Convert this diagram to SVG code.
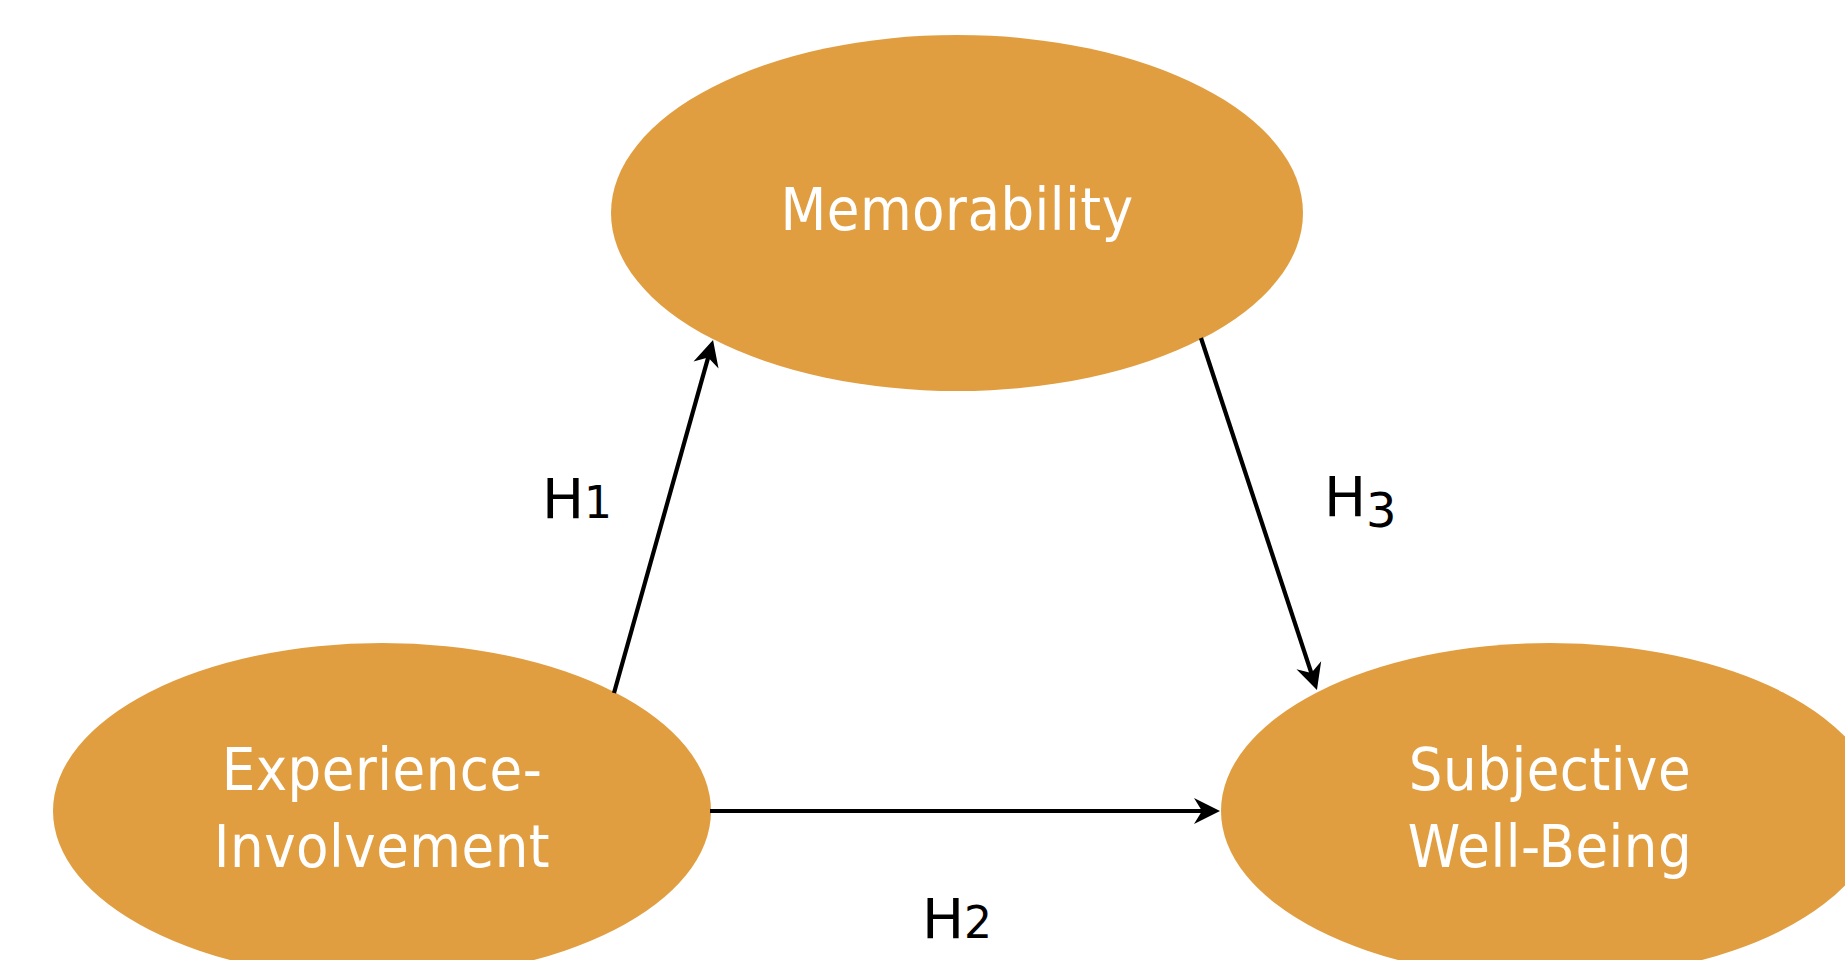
<svg xmlns="http://www.w3.org/2000/svg" width="1845" height="960" viewBox="0 0 1845 960">
<style>
.node{fill:#E19E40;}
.lbl{font-family:"DejaVu Sans Condensed","DejaVu Sans",sans-serif;font-size:59px;fill:#ffffff;text-anchor:middle;letter-spacing:0.5px;}
.hyp{font-family:"DejaVu Sans","Liberation Sans",sans-serif;font-size:56px;fill:#000000;}
.sub{font-size:44px;}
.edge{stroke:#000;stroke-width:4.2;fill:none;marker-end:url(#arr);}
</style>
<defs>
<marker id="arr" markerUnits="userSpaceOnUse" viewBox="0 -15 30 30" markerWidth="30" markerHeight="30" refX="14" refY="0" orient="auto" overflow="visible">
<path d="M0,-13 L26,0 L0,13 L8,0 Z" fill="#000"/>
</marker>
</defs>
<rect width="1845" height="960" fill="#ffffff"/>
<g id="memorability">
<ellipse class="node" cx="957" cy="213" rx="346" ry="178"/>
<text class="lbl" x="957" y="230">Memorability</text>
</g>
<g id="experience-involvement">
<ellipse class="node" cx="382" cy="811" rx="329" ry="168"/>
<text class="lbl" x="382" y="790">Experience-</text>
<text class="lbl" x="382" y="867">Involvement</text>
</g>
<g id="subjective-well-being">
<ellipse class="node" cx="1550" cy="811" rx="329" ry="168"/>
<text class="lbl" x="1550" y="790">Subjective</text>
<text class="lbl" x="1550" y="867">Well-Being</text>
</g>
<g id="connectors">
<line class="edge" x1="614" y1="693" x2="709.8" y2="351.6"/>
<line class="edge" x1="710" y1="811" x2="1208" y2="811"/>
<line class="edge" x1="1201" y1="338" x2="1313.2" y2="678.6"/>
</g>
<g id="labels">
<text class="hyp" x="542" y="518">H<tspan class="sub">1</tspan></text>
<text class="hyp" x="922" y="938">H<tspan class="sub">2</tspan></text>
<text class="hyp" x="1324" y="516">H<tspan style="font-size:48px" dy="11">3</tspan></text>
</g>
</svg>
